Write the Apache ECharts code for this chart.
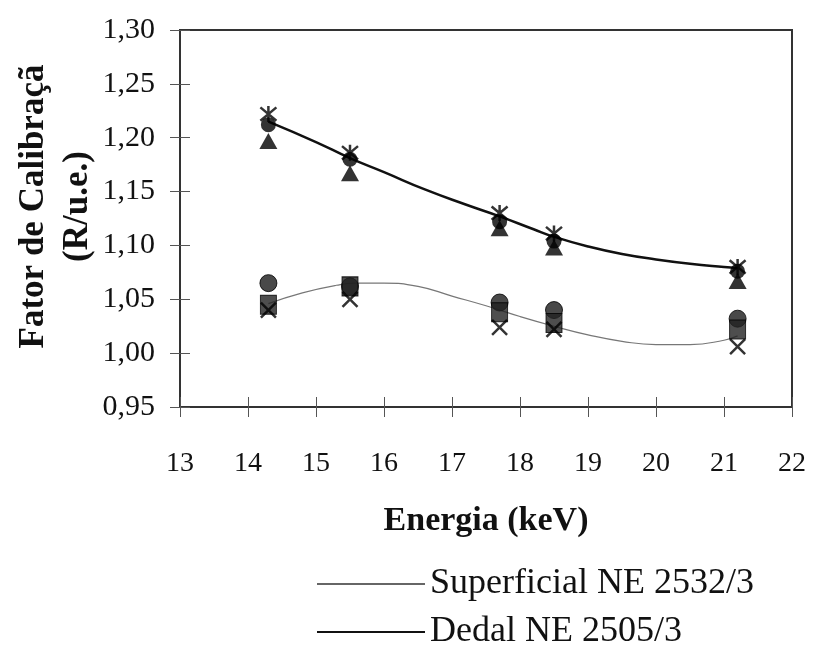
<!DOCTYPE html>
<html><head><meta charset="utf-8">
<script src="https://cdn.jsdelivr.net/npm/echarts@6/dist/echarts.min.js"></script>
<style>html,body{margin:0;padding:0;background:#fff}#c{width:814px;height:650px}</style>
</head><body><div id="c"></div>
<script>
// ---- data ----
const energies = [14.3, 15.5, 17.7, 18.5, 21.2];
// Dedal NE 2505/3 measurements
const dedalStar = [1.222, 1.186, 1.130, 1.111, 1.080];
const dedalCircle = [1.212, 1.180, 1.122, 1.104, 1.076];
const dedalTriangle = [1.197, 1.167, 1.116, 1.098, 1.067];
// Superficial NE 2532/3 measurements
const supCircle = [1.065, 1.062, 1.047, 1.040, 1.032];
const supSquare = [1.045, 1.062, 1.038, 1.028, 1.022];
const supCross = [1.040, 1.050, 1.024, 1.022, 1.006];
// trend lines
const dedalTrendX = [14.3, 15.0, 15.5, 16.0, 16.6, 17.2, 17.7, 18.2, 18.5, 19.0, 19.5, 20.0, 20.5, 21.0, 21.2];
const dedalTrendY = [1.215, 1.196, 1.181, 1.168, 1.152, 1.138, 1.127, 1.115, 1.108, 1.099, 1.092, 1.087, 1.083, 1.080, 1.079];
const supTrendX = [14.3, 14.8, 15.3, 15.6, 16.0, 16.5, 17.0, 17.5, 18.0, 18.5, 19.0, 19.5, 20.0, 20.5, 21.0, 21.2];
const supTrendY = [1.046, 1.056, 1.063, 1.065, 1.065, 1.062, 1.053, 1.044, 1.034, 1.025, 1.017, 1.011, 1.008, 1.008, 1.012, 1.016];
const xTickLabels = ['13','14','15','16','17','18','19','20','21','22'];
const yTickLabels = ['0,95','1,00','1,05','1,10','1,15','1,20','1,25','1,30'];
const legendNames = ['Superficial NE 2532/3', 'Dedal NE 2505/3'];

const pairs = (xs, ys) => xs.map((x, i) => [x, ys[i]]);
const FONT = 'Liberation Serif';
const STAR = 'path://M0,0 L10,10 M10,0 L0,10 M5,-1 L5,11';
const CROSS = 'path://M0,0 L10,10 M10,0 L0,10';

const chart = echarts.init(document.getElementById('c'));
const xBase = {type: 'value', min: 13, max: 22, interval: 1, position: 'bottom', gridIndex: 0};
const yBase = {type: 'value', min: 0.95, max: 1.30, interval: 0.05, position: 'left', gridIndex: 0};
const legendBase = {orient: 'horizontal', left: 312, itemWidth: 108, itemHeight: 2,
  textStyle: {fontFamily: FONT, fontSize: 36, lineHeight: 36, color: '#111', padding: [0, 0, 0, 0]}};
chart.setOption({
  animation: false,
  backgroundColor: '#fff',
  grid: {left: 180, top: 30, right: 22, bottom: 243, show: true, borderColor: '#333', borderWidth: 2,
    containLabel: false, outerBoundsMode: 'none'},
  xAxis: [
    Object.assign({}, xBase, {
      name: 'Energia (keV)', nameLocation: 'middle', nameGap: 97, nameMoveOverlap: false,
      nameTextStyle: {fontFamily: FONT, fontSize: 34, fontWeight: 'bold', color: '#111'},
      axisLine: {show: true, lineStyle: {color: '#333', width: 2}},
      axisTick: {show: true, inside: false, length: 10, lineStyle: {color: '#555', width: 1}},
      axisLabel: {margin: 43, fontFamily: FONT, fontSize: 28, color: '#111',
        formatter: (v) => xTickLabels[Math.round(v - 13)]},
      splitLine: {show: false}
    }),
    Object.assign({}, xBase, {
      axisLine: {show: false}, axisLabel: {show: false}, splitLine: {show: false},
      axisTick: {show: true, inside: true, length: 10, lineStyle: {color: '#555', width: 1}}
    })
  ],
  yAxis: [
    Object.assign({}, yBase, {
      name: 'Fator de Calibraçã\n(R/u.e.)', nameLocation: 'middle', nameGap: 80, nameMoveOverlap: false,
      nameTextStyle: {fontFamily: FONT, fontSize: 35, fontWeight: 'bold', color: '#111', lineHeight: 44,
        align: 'center', padding: [0, 0, 0, 24]},
      axisLine: {show: true, lineStyle: {color: '#333', width: 2}},
      axisTick: {show: true, inside: false, length: 10, lineStyle: {color: '#555', width: 1}},
      axisLabel: {margin: 25, fontFamily: FONT, fontSize: 30, color: '#111',
        formatter: (v) => yTickLabels[Math.round((v - 0.95) / 0.05)]},
      splitLine: {show: false}
    }),
    Object.assign({}, yBase, {
      axisLine: {show: false}, axisLabel: {show: false}, splitLine: {show: false},
      axisTick: {show: true, inside: true, length: 10, lineStyle: {color: '#555', width: 1}}
    })
  ],
  legend: [
    Object.assign({}, legendBase, {top: 561,
      data: [{name: legendNames[0], icon: 'rect', itemStyle: {color: '#666'}}]}),
    Object.assign({}, legendBase, {top: 609,
      data: [{name: legendNames[1], icon: 'rect', itemStyle: {color: '#111'}}]})
  ],
  series: [
    {name: legendNames[0], type: 'line', smooth: true, symbol: 'none', data: pairs(supTrendX, supTrendY),
      lineStyle: {color: '#777', width: 1.2}, itemStyle: {color: '#777'}, z: 2},
    {name: legendNames[1], type: 'line', smooth: true, symbol: 'none', data: pairs(dedalTrendX, dedalTrendY),
      lineStyle: {color: '#111', width: 2.5}, itemStyle: {color: '#111'}, z: 2},
    {type: 'scatter', data: pairs(energies, supCircle), symbol: 'circle', symbolSize: 17,
      itemStyle: {color: '#1c1c1c', borderColor: '#000', borderWidth: 1}, z: 3},
    {type: 'scatter', data: pairs(energies, supSquare), symbol: 'rect', symbolSize: [16, 19],
      itemStyle: {color: '#222', borderColor: '#000', borderWidth: 1}, z: 4},
    {type: 'scatter', data: pairs(energies, supCross), symbol: CROSS, symbolSize: 15,
      itemStyle: {color: 'transparent', borderColor: '#000', borderWidth: 2.5}, z: 5},
    {type: 'scatter', data: pairs(energies, dedalTriangle), symbol: 'triangle', symbolSize: [18, 16],
      itemStyle: {color: '#000'}, z: 3},
    {type: 'scatter', data: pairs(energies, dedalCircle), symbol: 'circle', symbolSize: 15,
      itemStyle: {color: '#000'}, z: 4},
    {type: 'scatter', data: pairs(energies, dedalStar), symbol: STAR, symbolSize: 16,
      itemStyle: {color: 'transparent', borderColor: '#000', borderWidth: 2.5}, z: 5}
  ]
});
</script>
</body></html>
